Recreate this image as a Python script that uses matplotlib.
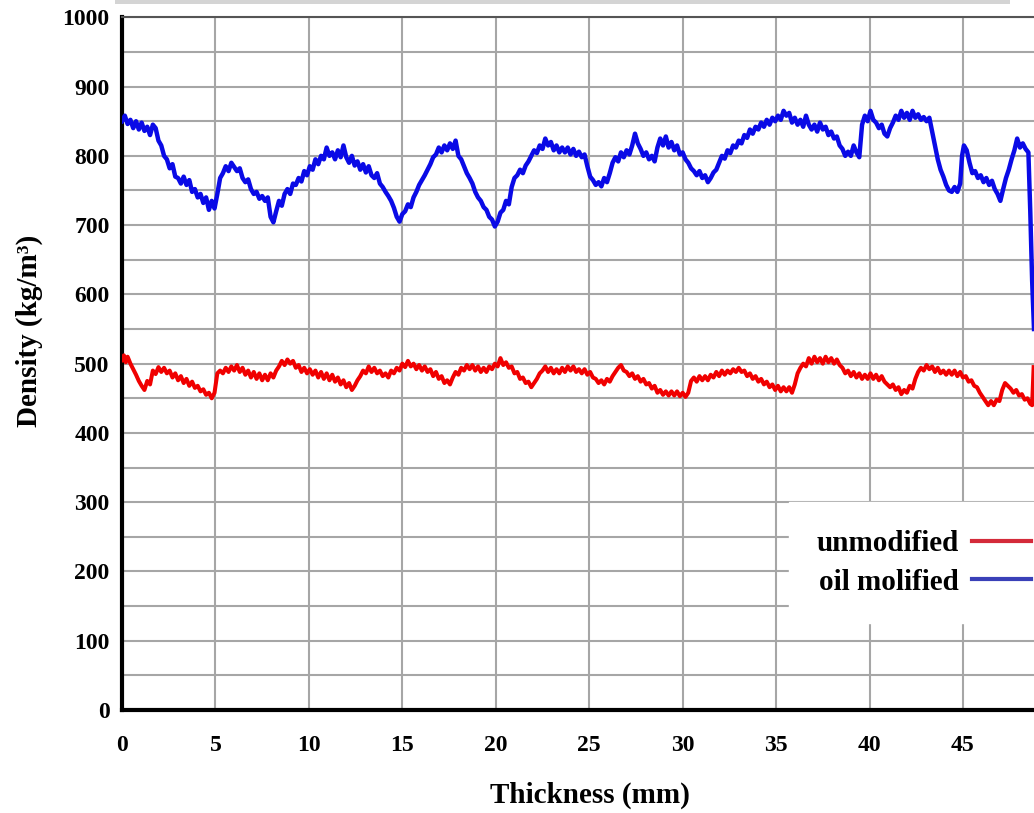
import matplotlib
matplotlib.use("Agg")
import matplotlib.pyplot as plt
from matplotlib.lines import Line2D
from matplotlib.patches import Rectangle

# ---- data (thickness in mm, density in kg/m3) ----
oil_x = [0.0, 0.15, 0.3, 0.45, 0.6, 0.75, 0.9, 1.05, 1.2, 1.35, 1.5, 1.65, 1.8, 1.95, 2.1, 2.25, 2.4, 2.55, 2.7, 2.85,
         3.0, 3.15, 3.3, 3.45, 3.6, 3.75, 3.9, 4.05, 4.2, 4.35, 4.5, 4.65, 4.8, 4.95, 5.1, 5.25, 5.4, 5.55, 5.7, 5.85,
         6.0, 6.15, 6.3, 6.45, 6.6, 6.75, 6.9, 7.05, 7.2, 7.35, 7.5, 7.65, 7.8, 7.95, 8.1, 8.25, 8.4, 8.55, 8.7, 8.85,
         9.0, 9.15, 9.3, 9.45, 9.6, 9.75, 9.9, 10.05, 10.2, 10.35, 10.5, 10.65, 10.8, 10.95, 11.1, 11.25, 11.4, 11.55, 11.7, 11.85,
         12.0, 12.15, 12.3, 12.45, 12.6, 12.75, 12.9, 13.05, 13.2, 13.35, 13.5, 13.65, 13.8, 13.95, 14.1, 14.25, 14.4, 14.55, 14.7, 14.85,
         15.0, 15.15, 15.3, 15.45, 15.6, 15.75, 15.9, 16.05, 16.2, 16.35, 16.5, 16.65, 16.8, 16.95, 17.1, 17.25, 17.4, 17.55, 17.7, 17.85,
         18.0, 18.15, 18.3, 18.45, 18.6, 18.75, 18.9, 19.05, 19.2, 19.35, 19.5, 19.65, 19.8, 19.95, 20.1, 20.25, 20.4, 20.55, 20.7, 20.85,
         21.0, 21.15, 21.3, 21.45, 21.6, 21.75, 21.9, 22.05, 22.2, 22.35, 22.5, 22.65, 22.8, 22.95, 23.1, 23.25, 23.4, 23.55, 23.7, 23.85,
         24.0, 24.15, 24.3, 24.45, 24.6, 24.75, 24.9, 25.05, 25.2, 25.35, 25.5, 25.65, 25.8, 25.95, 26.1, 26.25, 26.4, 26.55, 26.7, 26.85,
         27.0, 27.15, 27.3, 27.45, 27.6, 27.75, 27.9, 28.05, 28.2, 28.35, 28.5, 28.65, 28.8, 28.95, 29.1, 29.25, 29.4, 29.55, 29.7, 29.85,
         30.0, 30.15, 30.3, 30.45, 30.6, 30.75, 30.9, 31.05, 31.2, 31.35, 31.5, 31.65, 31.8, 31.95, 32.1, 32.25, 32.4, 32.55, 32.7, 32.85,
         33.0, 33.15, 33.3, 33.45, 33.6, 33.75, 33.9, 34.05, 34.2, 34.35, 34.5, 34.65, 34.8, 34.95, 35.1, 35.25, 35.4, 35.55, 35.7, 35.85,
         36.0, 36.15, 36.3, 36.45, 36.6, 36.75, 36.9, 37.05, 37.2, 37.35, 37.5, 37.65, 37.8, 37.95, 38.1, 38.25, 38.4, 38.55, 38.7, 38.85,
         39.0, 39.15, 39.3, 39.45, 39.6, 39.75, 39.9, 40.05, 40.2, 40.35, 40.5, 40.65, 40.8, 40.95, 41.1, 41.25, 41.4, 41.55, 41.7, 41.85,
         42.0, 42.15, 42.3, 42.45, 42.6, 42.75, 42.9, 43.05, 43.2, 43.35, 43.5, 43.65, 43.8, 43.95, 44.1, 44.25, 44.4, 44.55, 44.7, 44.85,
         44.95, 45.05, 45.2, 45.35, 45.5, 45.65, 45.8, 45.95, 46.1, 46.25, 46.4, 46.55, 46.7, 46.85, 47.0, 47.15, 47.3, 47.45, 47.6, 47.75,
         47.9, 48.05, 48.2, 48.35, 48.5, 48.6, 48.7, 48.8]
oil_y = [850, 858, 846, 852, 840, 850, 838, 848, 836, 842, 830, 845, 840, 822, 815, 800, 795, 782, 788, 770,
         768, 760, 770, 758, 765, 748, 752, 740, 745, 732, 740, 722, 735, 724, 745, 768, 775, 785, 778, 790,
         784, 778, 782, 768, 762, 766, 752, 745, 748, 738, 742, 735, 740, 712, 704, 720, 735, 728, 745, 752,
         745, 760, 758, 768, 763, 778, 772, 785, 780, 795, 788, 800, 795, 812, 800, 805, 795, 808, 798, 815,
         798, 790, 800, 786, 792, 780, 788, 776, 785, 772, 768, 775, 760, 755, 748, 742, 735, 725, 712, 705,
         716, 720, 730, 726, 740, 748, 758, 765, 772, 780, 788, 798, 802, 812, 805, 815, 808, 818, 810, 822,
         800, 795, 785, 775, 768, 760, 748, 740, 735, 726, 722, 712, 708, 698, 705, 718, 722, 735, 730, 755,
         768, 772, 780, 775, 786, 792, 800, 808, 804, 815, 810, 825, 815, 820, 808, 815, 805, 812, 805, 812,
         802, 810, 800, 806, 798, 802, 785, 770, 765, 758, 762, 756, 768, 762, 775, 790, 798, 792, 805, 798,
         808, 802, 815, 832, 818, 810, 800, 805, 795, 800, 792, 812, 825, 815, 828, 812, 820, 808, 815, 802,
         805, 795, 790, 782, 778, 772, 778, 768, 772, 762, 768, 776, 780, 790, 800, 796, 808, 804, 815, 812,
         822, 818, 830, 826, 838, 832, 842, 838, 848, 842, 852, 845, 855, 850, 858, 852, 865, 858, 862, 848,
         855, 845, 852, 842, 858, 845, 838, 845, 835, 848, 838, 842, 830, 835, 825, 828, 815, 810, 800, 806,
         800, 815, 805, 798, 845, 858, 850, 865, 852, 848, 840, 845, 832, 828, 840, 848, 858, 852, 865, 855,
         862, 852, 865, 855, 860, 852, 856, 850, 855, 835, 815, 795, 780, 770, 758, 750, 748, 755, 748, 760,
         800, 815, 808, 790, 775, 778, 768, 772, 762, 768, 758, 764, 752, 745, 735, 752, 768, 780, 795, 808,
         825, 812, 818, 810, 805, 720, 620, 550]

unmod_x = [0.0, 0.1, 0.2, 0.3, 0.45, 0.6, 0.75, 0.9, 1.05, 1.2, 1.35, 1.5, 1.65, 1.8, 1.95, 2.1, 2.25, 2.4, 2.55, 2.7,
           2.85, 3.0, 3.15, 3.3, 3.45, 3.6, 3.75, 3.9, 4.05, 4.2, 4.35, 4.5, 4.65, 4.8, 4.95, 5.1, 5.25, 5.4, 5.55, 5.7,
           5.85, 6.0, 6.15, 6.3, 6.45, 6.6, 6.75, 6.9, 7.05, 7.2, 7.35, 7.5, 7.65, 7.8, 7.95, 8.1, 8.25, 8.4, 8.55, 8.7,
           8.85, 9.0, 9.15, 9.3, 9.45, 9.6, 9.75, 9.9, 10.05, 10.2, 10.35, 10.5, 10.65, 10.8, 10.95, 11.1, 11.25, 11.4, 11.55, 11.7,
           11.85, 12.0, 12.15, 12.3, 12.45, 12.6, 12.75, 12.9, 13.05, 13.2, 13.35, 13.5, 13.65, 13.8, 13.95, 14.1, 14.25, 14.4, 14.55, 14.7,
           14.85, 15.0, 15.15, 15.3, 15.45, 15.6, 15.75, 15.9, 16.05, 16.2, 16.35, 16.5, 16.65, 16.8, 16.95, 17.1, 17.25, 17.4, 17.55, 17.7,
           17.85, 18.0, 18.15, 18.3, 18.45, 18.6, 18.75, 18.9, 19.05, 19.2, 19.35, 19.5, 19.65, 19.8, 19.95, 20.1, 20.25, 20.4, 20.55, 20.7,
           20.85, 21.0, 21.15, 21.3, 21.45, 21.6, 21.75, 21.9, 22.05, 22.2, 22.35, 22.5, 22.65, 22.8, 22.95, 23.1, 23.25, 23.4, 23.55, 23.7,
           23.85, 24.0, 24.15, 24.3, 24.45, 24.6, 24.75, 24.9, 25.05, 25.2, 25.35, 25.5, 25.65, 25.8, 25.95, 26.1, 26.25, 26.4, 26.55, 26.7,
           26.85, 27.0, 27.15, 27.3, 27.45, 27.6, 27.75, 27.9, 28.05, 28.2, 28.35, 28.5, 28.65, 28.8, 28.95, 29.1, 29.25, 29.4, 29.55, 29.7,
           29.85, 30.0, 30.15, 30.3, 30.45, 30.6, 30.75, 30.9, 31.05, 31.2, 31.35, 31.5, 31.65, 31.8, 31.95, 32.1, 32.25, 32.4, 32.55, 32.7,
           32.85, 33.0, 33.15, 33.3, 33.45, 33.6, 33.75, 33.9, 34.05, 34.2, 34.35, 34.5, 34.65, 34.8, 34.95, 35.1, 35.25, 35.4, 35.55, 35.7,
           35.85, 36.0, 36.15, 36.3, 36.45, 36.6, 36.75, 36.9, 37.05, 37.2, 37.35, 37.5, 37.65, 37.8, 37.95, 38.1, 38.25, 38.4, 38.55, 38.7,
           38.85, 39.0, 39.15, 39.3, 39.45, 39.6, 39.75, 39.9, 40.05, 40.2, 40.35, 40.5, 40.65, 40.8, 40.95, 41.1, 41.25, 41.4, 41.55, 41.7,
           41.85, 42.0, 42.15, 42.3, 42.45, 42.6, 42.75, 42.9, 43.05, 43.2, 43.35, 43.5, 43.65, 43.8, 43.95, 44.1, 44.25, 44.4, 44.55, 44.7,
           44.85, 45.0, 45.15, 45.3, 45.45, 45.6, 45.75, 45.9, 46.05, 46.2, 46.35, 46.5, 46.65, 46.8, 46.95, 47.1, 47.25, 47.4, 47.55, 47.7,
           47.85, 48.0, 48.15, 48.3, 48.45, 48.6, 48.7, 48.78]
unmod_y = [505, 512, 502, 510, 500, 492, 484, 475, 468, 462, 475, 470, 490, 485, 495, 488, 494, 486, 490, 480,
           486, 476, 482, 472, 478, 468, 474, 465, 468, 460, 463, 455, 458, 450, 458, 486, 490, 486, 494, 488,
           496, 490, 498, 488, 494, 484, 490, 480, 488, 478, 486, 476, 484, 476, 486, 480, 490, 496, 504, 498,
           506, 500, 504, 494, 498, 488, 494, 486, 492, 484, 490, 480, 488, 478, 486, 476, 484, 474, 480, 470,
           476, 466, 472, 462, 468, 476, 482, 490, 486, 496, 488, 494, 486, 490, 482, 486, 480, 490, 486, 494,
           490, 500, 495, 504, 496, 500, 492, 498, 490, 496, 488, 492, 482, 488, 478, 482, 472, 476, 470, 480,
           488, 484, 494, 490, 498, 492, 498, 490, 496, 488, 494, 488, 496, 492, 500, 496, 508, 498, 502, 494,
           496, 486, 488, 478, 480, 472, 474, 466, 472, 478, 486, 490, 496, 488, 494, 486, 492, 486, 494, 488,
           496, 490, 496, 488, 492, 486, 492, 484, 488, 480, 478, 472, 476, 470, 478, 474, 482, 488, 494, 498,
           490, 488, 482, 486, 478, 482, 474, 478, 470, 472, 464, 468, 458, 462, 455, 460, 454, 460, 454, 460,
           453, 458, 452, 458, 475, 480, 474, 482, 476, 482, 476, 484, 480, 488, 482, 490, 484, 490, 486, 492,
           488, 494, 488, 490, 482, 486, 478, 482, 474, 478, 470, 474, 466, 470, 462, 468, 460, 466, 460, 466,
           458, 470, 486, 494, 500, 496, 508, 500, 510, 502, 508, 500, 510, 502, 508, 500, 506, 498, 494, 486,
           490, 482, 488, 480, 486, 478, 484, 478, 486, 478, 484, 476, 482, 474, 470, 466, 470, 462, 466, 456,
           462, 458, 468, 464, 478, 488, 494, 490, 498, 492, 496, 488, 494, 486, 490, 484, 490, 484, 490, 482,
           488, 480, 482, 474, 476, 468, 466, 458, 452, 446, 440, 446, 440, 448, 446, 462, 472, 468, 464, 458,
           462, 454, 456, 448, 450, 442, 440, 495]

labels = ['unmodified', 'oil molified']
x_ticks = [0, 5, 10, 15, 20, 25, 30, 35, 40, 45]
y_ticks = [0, 100, 200, 300, 400, 500, 600, 700, 800, 900, 1000]
y_grid = [50 * i for i in range(21)]

plt.rcParams['font.family'] = ['Liberation Serif', 'DejaVu Serif']
plt.rcParams['font.weight'] = 'bold'

fig = plt.figure(figsize=(10.34, 8.13), dpi=100)
ax = fig.add_axes([0.118, 0.1267, 0.882, 0.852])

# grid
for gx in x_ticks:
    ax.axvline(gx, color='#a6a6a6', lw=1.5, zorder=0)
for gy in y_grid:
    ax.axhline(gy, color='#a6a6a6', lw=1.5, zorder=0)

ax.plot(unmod_x, unmod_y, color='#f00000', lw=2.9, zorder=3)
ax.plot(oil_x, oil_y, color='#0a0ae6', lw=3.2, zorder=3)

ax.set_xlim(0, 48.8)
ax.set_ylim(0, 1000)
ax.set_xticks(x_ticks)
ax.set_yticks(y_ticks)
ax.tick_params(axis='both', length=0, labelsize=17)
ax.tick_params(axis='x', pad=18)
ax.tick_params(axis='y', pad=9)
for t in ax.get_xticklabels() + ax.get_yticklabels():
    t.set_fontweight('bold')

ax.spines['right'].set_visible(False)
ax.spines['top'].set_color('#555555')
ax.spines['top'].set_linewidth(1.5)
ax.spines['left'].set_linewidth(3)
ax.spines['bottom'].set_linewidth(3)

ax.set_xlabel('Thickness (mm)', fontsize=21, fontweight='bold')
ax.set_ylabel('Density (kg/m³)', fontsize=21, fontweight='bold')
ax.xaxis.set_label_coords(0.513, -0.103)
ax.yaxis.set_label_coords(-0.087, 0.547)

handles = [Line2D([], [], color='#d42a3a', lw=3), Line2D([], [], color='#3a40b8', lw=3)]
leg = ax.legend(handles, labels, loc='upper left', bbox_to_anchor=(0.7315, 0.30),
                markerfirst=False, fontsize=21, frameon=True, fancybox=False,
                borderpad=0.95, labelspacing=0.4, handlelength=2.0, handletextpad=0.45,
                borderaxespad=0)
leg.get_frame().set_facecolor('white')
leg.get_frame().set_edgecolor('white')
leg.get_frame().set_alpha(1)
leg.set_zorder(2)
for t in leg.get_texts():
    t.set_fontweight('bold')

# faint grey strip at the very top of the picture
fig.add_artist(Rectangle((0.111, 0.995), 0.866, 0.005, transform=fig.transFigure,
                         color='#d4d4d4', lw=0))

fig.savefig('out.png', dpi=100)
